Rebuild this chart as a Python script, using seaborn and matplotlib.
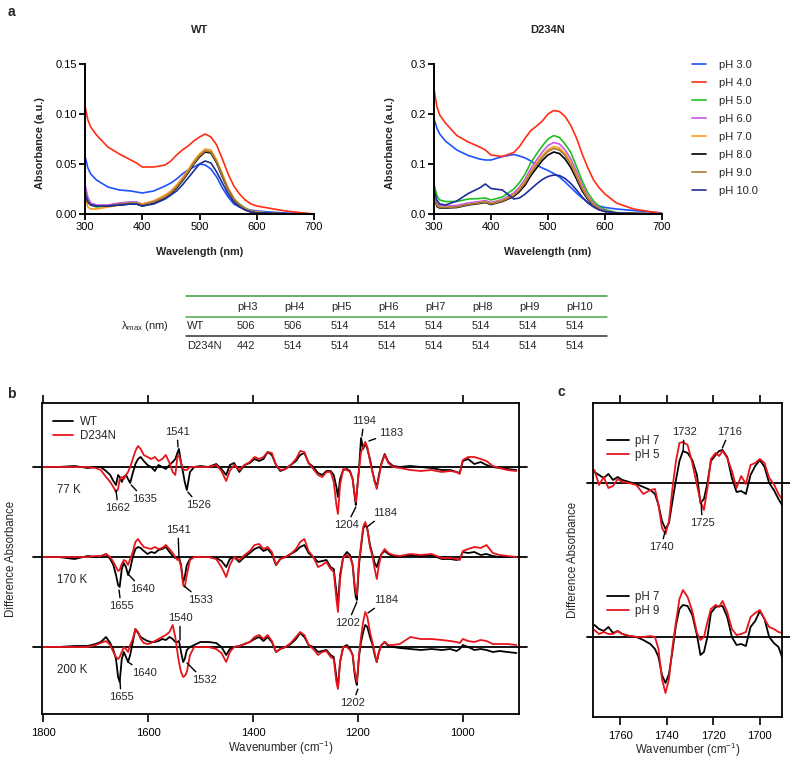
import numpy as np
import pandas as pd
import seaborn as sns
import matplotlib.pyplot as plt
from matplotlib.ticker import FormatStrFormatter

sns.set_style('ticks')
plt.rcParams['font.family'] = ['Liberation Sans', 'DejaVu Sans']
plt.rcParams['mathtext.fontset'] = 'custom'
plt.rcParams['mathtext.rm'] = 'Liberation Sans'
plt.rcParams['mathtext.it'] = 'Liberation Sans:italic'
plt.rcParams['mathtext.bf'] = 'Liberation Sans:bold'

# ---------------------------------------------------------------
# panel a : UV-vis absorbance spectra

wavelength = [300, 305, 310, 320, 340, 360, 380, 390, 400, 420, 440, 450, 460, 470, 480,
              490, 500, 510, 520, 530, 540, 550, 560, 570, 580, 590, 600, 620, 650, 700]
ph_labels = ['pH 3.0', 'pH 4.0', 'pH 5.0', 'pH 6.0', 'pH 7.0', 'pH 8.0', 'pH 9.0', 'pH 10.0']
ph_colors = ['#1f52ff', '#ff2d12', '#1fbf1f', '#c655ea', '#ff9a1a', '#000000', '#a47b3c', '#1c2f9c']

wt_ph3 = [0.058, 0.046, 0.040, 0.034, 0.027, 0.024, 0.023, 0.022, 0.021, 0.023, 0.028, 0.031, 0.035, 0.040, 0.044,
          0.047, 0.050, 0.049, 0.045, 0.037, 0.026, 0.017, 0.010, 0.007, 0.005, 0.004, 0.003, 0.002, 0.001, 0.000]
wt_ph4 = [0.108, 0.094, 0.087, 0.079, 0.067, 0.060, 0.054, 0.051, 0.047, 0.047, 0.049, 0.053, 0.059, 0.064, 0.068,
          0.073, 0.077, 0.080, 0.077, 0.069, 0.055, 0.040, 0.028, 0.020, 0.014, 0.010, 0.008, 0.006, 0.003, 0.000]
wt_ph5 = [0.025, 0.013, 0.009, 0.007, 0.008, 0.010, 0.012, 0.011, 0.009, 0.012, 0.018, 0.022, 0.028, 0.035, 0.043,
          0.051, 0.058, 0.063, 0.062, 0.052, 0.039, 0.025, 0.015, 0.010, 0.006, 0.003, 0.002, 0.001, 0.000, 0.000]
wt_ph6 = [0.030, 0.017, 0.011, 0.009, 0.009, 0.011, 0.012, 0.012, 0.010, 0.013, 0.018, 0.022, 0.028, 0.035, 0.043,
          0.052, 0.059, 0.063, 0.062, 0.052, 0.038, 0.025, 0.015, 0.009, 0.005, 0.003, 0.002, 0.001, 0.000, 0.000]
wt_ph7 = [0.017, 0.007, 0.005, 0.005, 0.007, 0.009, 0.011, 0.011, 0.010, 0.013, 0.019, 0.023, 0.029, 0.036, 0.044,
          0.053, 0.060, 0.065, 0.064, 0.054, 0.040, 0.026, 0.016, 0.009, 0.005, 0.003, 0.002, 0.001, 0.000, 0.000]
wt_ph8 = [0.022, 0.012, 0.009, 0.008, 0.008, 0.009, 0.010, 0.010, 0.008, 0.011, 0.016, 0.020, 0.026, 0.033, 0.041,
          0.050, 0.057, 0.062, 0.061, 0.051, 0.037, 0.024, 0.014, 0.008, 0.004, 0.002, 0.001, 0.001, 0.000, 0.000]
wt_ph9 = [0.023, 0.012, 0.009, 0.008, 0.008, 0.010, 0.011, 0.011, 0.009, 0.012, 0.017, 0.021, 0.027, 0.034, 0.042,
          0.051, 0.058, 0.063, 0.062, 0.052, 0.038, 0.024, 0.014, 0.008, 0.004, 0.002, 0.001, 0.001, 0.000, 0.000]
wt_ph10 = [0.020, 0.012, 0.009, 0.008, 0.008, 0.009, 0.010, 0.010, 0.008, 0.010, 0.015, 0.019, 0.023, 0.029, 0.036,
           0.043, 0.050, 0.053, 0.051, 0.042, 0.031, 0.020, 0.012, 0.007, 0.004, 0.002, 0.001, 0.001, 0.000, 0.000]

d234n_ph3 = [0.190, 0.172, 0.160, 0.146, 0.128, 0.117, 0.110, 0.108, 0.108, 0.115, 0.119, 0.116, 0.112, 0.106, 0.098,
             0.092, 0.087, 0.081, 0.074, 0.064, 0.053, 0.042, 0.032, 0.023, 0.019, 0.016, 0.013, 0.010, 0.007, 0.002]
d234n_ph4 = [0.250, 0.215, 0.198, 0.182, 0.157, 0.144, 0.134, 0.128, 0.118, 0.115, 0.123, 0.135, 0.152, 0.167, 0.176,
             0.186, 0.200, 0.207, 0.205, 0.195, 0.177, 0.152, 0.120, 0.092, 0.068, 0.052, 0.040, 0.022, 0.010, 0.001]
d234n_ph5 = [0.060, 0.037, 0.028, 0.025, 0.025, 0.030, 0.031, 0.032, 0.028, 0.034, 0.050, 0.063, 0.080, 0.103, 0.120,
             0.136, 0.150, 0.157, 0.153, 0.140, 0.123, 0.095, 0.066, 0.042, 0.026, 0.015, 0.009, 0.003, 0.001, 0.000]
d234n_ph6 = [0.043, 0.022, 0.017, 0.016, 0.017, 0.022, 0.025, 0.027, 0.023, 0.029, 0.042, 0.054, 0.070, 0.091, 0.108,
             0.124, 0.137, 0.143, 0.140, 0.128, 0.110, 0.085, 0.058, 0.036, 0.021, 0.012, 0.007, 0.002, 0.001, 0.000]
d234n_ph7 = [0.040, 0.018, 0.014, 0.013, 0.014, 0.019, 0.023, 0.025, 0.021, 0.027, 0.039, 0.050, 0.065, 0.085, 0.102,
             0.117, 0.129, 0.135, 0.132, 0.121, 0.103, 0.079, 0.053, 0.033, 0.019, 0.010, 0.006, 0.002, 0.001, 0.000]
d234n_ph8 = [0.038, 0.015, 0.012, 0.012, 0.013, 0.018, 0.021, 0.023, 0.019, 0.025, 0.035, 0.045, 0.058, 0.077, 0.092,
             0.107, 0.118, 0.124, 0.121, 0.110, 0.093, 0.070, 0.046, 0.029, 0.017, 0.009, 0.005, 0.002, 0.001, 0.000]
d234n_ph9 = [0.040, 0.017, 0.013, 0.013, 0.014, 0.019, 0.022, 0.024, 0.020, 0.026, 0.037, 0.048, 0.062, 0.082, 0.098,
             0.113, 0.125, 0.131, 0.128, 0.117, 0.099, 0.075, 0.050, 0.031, 0.018, 0.010, 0.005, 0.002, 0.001, 0.000]
d234n_ph10 = [0.050, 0.028, 0.020, 0.018, 0.026, 0.041, 0.052, 0.060, 0.051, 0.048, 0.030, 0.032, 0.040, 0.050, 0.060,
              0.069, 0.075, 0.078, 0.077, 0.071, 0.061, 0.048, 0.034, 0.022, 0.014, 0.008, 0.005, 0.002, 0.001, 0.000]

# lambda max table
table_cols = ['pH3', 'pH4', 'pH5', 'pH6', 'pH7', 'pH8', 'pH9', 'pH10']
lmax_wt = [506, 506, 514, 514, 514, 514, 514, 514]
lmax_d234n = [442, 514, 514, 514, 514, 514, 514, 514]

# ---------------------------------------------------------------
# panel b : light-minus-dark FTIR difference spectra (arb. units)

b_wn = [1800, 1770, 1740, 1715, 1700, 1690, 1680, 1672, 1666, 1661, 1657, 1654, 1650, 1646, 1642,
        1638, 1634, 1629, 1624, 1619, 1614, 1608, 1601, 1594, 1587, 1580, 1573, 1566, 1559, 1553,
        1548, 1544, 1541, 1537, 1533, 1530, 1526, 1520, 1512, 1500, 1485, 1470, 1460, 1451, 1444,
        1436, 1426, 1416, 1406, 1397, 1388, 1380, 1372, 1364, 1356, 1348, 1338, 1328, 1318, 1310,
        1302, 1294, 1285, 1276, 1268, 1260, 1252, 1246, 1241, 1238, 1234, 1228, 1221, 1215, 1210,
        1206, 1204, 1202, 1198, 1194, 1190, 1186, 1182, 1177, 1172, 1168, 1164, 1160, 1155, 1149,
        1142, 1133, 1120, 1100, 1080, 1060, 1040, 1024, 1012, 1006, 1000, 990, 978, 966, 955,
        943, 930, 915, 898]

wt_77 = [0, 0, 1, -1, 0, 0, -4, -8, -14, -18, -8, -10, -15, -10, -8,
         -12, -16, -6, 3, 8, 10, 6, 2, 0, -4, 2, 0, -2, 2, 5,
         8, 14, 18, 4, -6, -15, -23, -5, 0, 1, 0, 3, -2, -8, 2,
         4, -5, 2, 4, 8, 6, 8, 15, 12, 2, -4, -2, 2, 6, 12,
         14, 4, 0, -6, -8, -4, -4, -8, -20, -30, -12, -3, -2, -4, -12,
         -30, -38, -25, -3, 29, 18, 24, 18, 8, -5, -14, -20, -8, 4, 13,
         5, 1, 0, 1, 0, -1, -3, -3, -5, -6, 6, 8, 3, 5, 2,
         0, -1, -2, -3]
d234n_77 = [0, 0, 0, 0, -1, -3, -10, -15, -20, -25, -22, -12, -10, -12, -8,
            -5, 0, 8, 16, 21, 18, 12, 10, 8, 10, 6, 8, 12, 4, -5,
            -8, 10, 12, 4, -2, -3, -3, 0, 0, 0, 0, 2, -4, -14, -4,
            2, -3, 2, 5, 10, 8, 10, 15, 14, 2, -3, -2, 2, 8, 16,
            15, 4, -2, -8, -10, -5, -5, -15, -38, -47, -18, -2, -3, -5, -12,
            -28, -35, -25, -3, 15, 20, 25, 20, 6, -6, -15, -22, -10, 3, 12,
            4, 0, -1, -3, -4, -3, -5, -4, -5, -7, 7, 10, 10, 8, 6,
            1, -1, -3, -4]
wt_170 = [0, 0, -2, 1, 0, 0, 3, -2, -8, -18, -28, -30, -12, -6, -10,
          -18, -12, 0, 8, 10, 9, 6, 3, 5, 4, 7, 8, 10, 5, 1,
          -1, -1, 0, -8, -25, -20, -8, -2, 0, 0, 0, -1, -4, -10, -2,
          0, -5, 0, 4, 8, 10, 6, 8, 3, -8, -2, 0, 3, 6, 10,
          12, 4, 0, -5, -4, -3, -10, -12, -35, -47, -18, 0, 5, 2, -8,
          -32, -40, -43, -8, 10, 28, 33, 28, 12, 2, -6, -10, -3, 3, 6,
          3, 1, 0, 2, 1, 2, -2, -2, -3, -2, 5, 4, 5, 2, 3,
          1, 0, 0, 0]
d234n_170 = [0, 0, 0, 0, 1, 1, 3, 0, -5, -10, -14, -13, -7, -3, -4,
             -8, -2, 5, 15, 18, 14, 10, 9, 8, 10, 8, 9, 12, 8, 4,
             0, -3, -2, -10, -28, -30, -18, -3, 0, 0, 0, -2, -10, -20, -8,
             0, -3, 2, 6, 12, 13, 8, 10, 5, -8, -2, 0, 3, 8, 15,
             18, 6, 0, -10, -8, -5, -12, -15, -42, -55, -22, 0, 2, 0, -8,
             -28, -35, -38, -5, 12, 30, 35, 28, 10, 0, -12, -22, -8, 3, 8,
             4, 2, 1, 3, 2, 3, -1, -1, -2, -3, 6, 8, 10, 9, 12,
             4, 2, 1, 0]
wt_200 = [0, 0, 1, 1, 3, 5, 10, 4, -3, -12, -30, -35, -12, -5, -10,
          -15, -8, 5, 18, 14, 10, 8, 6, 5, 5, 6, 8, 7, 10, 8,
          5, 5, 6, -5, -15, -12, -3, 0, 2, 5, 5, 4, 0, -8, -2,
          0, 1, 3, 5, 8, 10, 6, 10, 5, -5, -2, 0, 3, 8, 14,
          10, 2, 0, -5, -4, -3, -8, -10, -30, -40, -15, 0, 2, -2, -8,
          -28, -34, -38, -10, 5, 15, 22, 20, 10, 2, -8, -15, -5, 2, 5,
          1, 0, -1, -2, -3, -2, -3, -2, -4, -2, 2, 0, -3, -2, -3,
          -5, -4, -5, -6]
d234n_200 = [0, 0, 0, 0, 2, 4, 6, 2, -5, -10, -12, -10, -5, 0, -2,
             -5, 2, 8, 18, 15, 8, 4, 3, 4, 6, 8, 10, 12, 15, 22,
             10, -5, -15, -25, -30, -29, -25, -8, 0, 0, 0, -2, -6, -15, -5,
             0, 1, 3, 5, 10, 12, 8, 12, 6, -5, -2, 0, 4, 10, 15,
             12, 2, -2, -8, -5, -4, -10, -12, -35, -42, -15, 0, 0, -3, -8,
             -25, -30, -35, -8, 10, 25, 35, 30, 15, 4, -6, -15, -5, 2, 5,
             2, 2, 3, 10, 8, 8, 7, 6, 5, 4, 8, 6, 5, 7, 6,
             3, 3, 3, 2]
b_temps = ['77 K', '170 K', '200 K']

# ---------------------------------------------------------------
# panel c : carbonyl region, pH dependence

c_wn = [1771, 1769, 1767, 1765, 1763, 1761, 1759, 1756, 1753, 1750, 1747, 1745,
        1743.5, 1742, 1740.5, 1739, 1737.5, 1736, 1734.5, 1733, 1731, 1729, 1727, 1725.5,
        1724, 1722.5, 1721, 1719, 1717.5, 1716, 1714, 1712, 1710, 1708, 1706, 1704,
        1702, 1700, 1698, 1696, 1694, 1692, 1690.5]
c_ph7_a = [11, 8, 5, 9, 3, 6, 3, 1, -1, -4, -7, -11,
           -22, -38, -46, -40, -18, 3, 22, 32, 30, 23, 8, -20,
           -16, 0, 22, 28, 32, 33, 26, 5, -9, -8, -11, 8,
           17, 23, 16, 0, -7, -16, -22]
c_ph5 = [13, -2, 6, -5, -3, 4, 1, 0, -2, -11, -7, -6,
         -22, -45, -51, -38, -5, 22, 40, 41, 38, 20, -2, -18,
         -27, -5, 24, 30, 27, 32, 25, 12, -5, 7, -1, 18,
         20, 24, 20, 5, -1, -11, -16]
c_ph7_b = [12, 8, 6, 10, 4, 6, 3, 1, 0, -3, -7, -12,
           -20, -38, -46, -37, -14, 12, 28, 32, 31, 22, 2, -18,
           -15, 0, 24, 30, 31, 31, 20, 0, -8, -7, -9, 10,
           16, 26, 18, 0, -6, -10, -20]
c_ph9 = [7, 3, 5, 3, 3, 6, 3, 1, 0, 0, 1, 0,
         -12, -42, -56, -42, -10, 15, 38, 47, 40, 26, 4, -3,
         0, 15, 28, 32, 30, 36, 25, 8, 2, 3, 5, 20,
         24, 27, 18, 10, 8, 5, 4]

RED = '#e8141b'
W, H = 790, 758


def fxy(x, y):
    # pixel position -> figure fraction
    return x / W, 1 - y / H


fig = plt.figure(figsize=(W / 100, H / 100), dpi=100)

# ---------------------------------------------------------------
# panel a

ax_wt = fig.add_axes([85 / W, 1 - 214 / H, 229 / W, 150 / H])
ax_d = fig.add_axes([434 / W, 1 - 214 / H, 228 / W, 150 / H])
palette = dict(zip(ph_labels, ph_colors))

for ax, series, ymax, step, fmt, title in [
        (ax_wt, [wt_ph3, wt_ph4, wt_ph5, wt_ph6, wt_ph7, wt_ph8, wt_ph9, wt_ph10], 0.15, 0.05, '%.2f', 'WT'),
        (ax_d, [d234n_ph3, d234n_ph4, d234n_ph5, d234n_ph6, d234n_ph7, d234n_ph8, d234n_ph9, d234n_ph10],
         0.3, 0.1, '%.1f', 'D234N')]:
    df = pd.DataFrame({'wavelength': wavelength * len(series),
                       'absorbance': [v for s in series for v in s],
                       'pH': [lab for lab in ph_labels for _ in wavelength]})
    sns.lineplot(data=df, x='wavelength', y='absorbance', hue='pH', hue_order=ph_labels,
                 palette=palette, estimator=None, lw=1.2, ax=ax, legend=(ax is ax_d))
    ax.set_xlim(300, 700)
    ax.set_ylim(0, ymax)
    ax.set_xticks([300, 400, 500, 600, 700])
    ax.set_yticks(np.arange(0, ymax + step / 2, step))
    ax.yaxis.set_major_formatter(FormatStrFormatter(fmt))
    sns.despine(ax=ax)
    for s in ['left', 'bottom']:
        ax.spines[s].set_linewidth(1.4)
        ax.spines[s].set_color('black')
    ax.tick_params(direction='out', length=4, width=1.3, labelsize=8, pad=2, colors='black')
    ax.set_xlabel('Wavelength (nm)', fontsize=7.8, fontweight='bold')
    ax.set_ylabel('Absorbance (a.u.)', fontsize=7.8, fontweight='bold')
    ax.xaxis.set_label_coords(0.5, -0.22)
    ax.yaxis.set_label_coords(-0.173, 0.473)
    ax.text(0.5, 1.227, title, transform=ax.transAxes, ha='center', va='center',
            fontsize=8, fontweight='bold')

sns.move_legend(ax_d, 'upper left', bbox_to_anchor=fxy(692, 60), bbox_transform=fig.transFigure,
                frameon=False, title=None, fontsize=8, handlelength=1.25, handletextpad=1.2,
                labelspacing=0.72, borderpad=0, borderaxespad=0)

# lambda max table
for y, c in [(296, '#3a9a3a'), (317, '#4aaa4a'), (336, '#333333')]:
    fig.add_artist(plt.Line2D([186 / W, 607 / W], [1 - y / H] * 2, transform=fig.transFigure,
                              color=c, lw=1.1))
for i, col in enumerate(table_cols):
    x = 237 + 47 * i
    fig.text(*fxy(x, 307), col, fontsize=8, va='center')
    fig.text(*fxy(x, 326), str(lmax_wt[i]), fontsize=8, va='center')
    fig.text(*fxy(x, 346), str(lmax_d234n[i]), fontsize=8, va='center')
fig.text(*fxy(187, 326), 'WT', fontsize=8, va='center')
fig.text(*fxy(187, 346), 'D234N', fontsize=8, va='center')
fig.text(*fxy(121, 326), r'$\mathregular{\lambda_{max}}$ (nm)', fontsize=8, va='center')

# ---------------------------------------------------------------
# panel b

ax_b = fig.add_axes([42 / W, 1 - 714 / H, 477 / W, 311 / H])
b_offsets = [0, -90, -180]
for i, (wt, mut, off) in enumerate(zip([wt_77, wt_170, wt_200], [d234n_77, d234n_170, d234n_200], b_offsets)):
    df = pd.DataFrame({'wavenumber': b_wn * 2,
                       'dA': [v + off for v in wt + mut],
                       'sample': ['WT'] * len(b_wn) + ['D234N'] * len(b_wn)})
    sns.lineplot(data=df, x='wavenumber', y='dA', hue='sample', hue_order=['WT', 'D234N'],
                 palette={'WT': 'black', 'D234N': RED}, estimator=None, lw=1.3, ax=ax_b,
                 legend=(i == 0))
    ax_b.axhline(off, xmin=-0.019, xmax=1.017, color='black', lw=1.3, clip_on=False, zorder=1)
    ax_b.text(1774, off - 23, b_temps[i], fontsize=8.3, va='center')

sns.move_legend(ax_b, 'upper left', bbox_to_anchor=fxy(53, 416), bbox_transform=fig.transFigure,
                frameon=False, title=None, fontsize=8.3, handlelength=1.75, handletextpad=0.6,
                labelspacing=0.2, borderpad=0, borderaxespad=0)

b_notes = [('1541', (1544.7, 35), (1542.8, 20)), ('1662', (1657, -41), (1661, -23)),
           ('1635', (1607, -32), (1632, -18)), ('1526', (1503, -38), (1524, -25)),
           ('1194', (1188.5, 46), (1192.3, 31)), ('1183', (1137, 34), (1179, 26)),
           ('1204', (1221, -58), (1204, -40)),
           ('1541', (1542.8, -63), (1541, -90)), ('1655', (1651.4, -139), (1655.2, -123)),
           ('1640', (1611, -122), (1638, -107)), ('1533', (1499, -133), (1531, -119)),
           ('1184', (1148.5, -46), (1182.8, -60)), ('1202', (1219, -156), (1202, -135)),
           ('1540', (1539, -151), (1539, -173)), ('1655', (1651.4, -230), (1653.3, -214)),
           ('1640', (1607.6, -206), (1638, -195)), ('1532', (1493, -213), (1525.7, -196)),
           ('1184', (1146.6, -133), (1181, -146)), ('1202', (1209.5, -236), (1200, -222))]
for lab, txt, pt in b_notes:
    ax_b.annotate(lab, xy=pt, xytext=txt, ha='center', va='center', fontsize=8,
                  arrowprops=dict(arrowstyle='-', lw=1.0, color='black', shrinkA=0, shrinkB=0))

ax_b.set_xlim(1802, 893)
ax_b.set_ylim(-247, 64)
ax_b.set_xticks([1800, 1600, 1400, 1200, 1000])
ax_b.set_yticks([])
ax_b.set_xlabel('Wavenumber (cm$^{-1}$)', fontsize=8.3)
ax_b.set_ylabel('Difference Absorbance', fontsize=8.3)
ax_b.xaxis.set_label_coords(0.5, -0.08)
ax_b.yaxis.set_label_coords(-0.052, 0.5)

# ---------------------------------------------------------------
# panel c

ax_c = fig.add_axes([593 / W, 1 - 717 / H, 189 / W, 314 / H])
c_offsets = [0, -154]
c_pairs = [(c_ph7_a, c_ph5, 'pH 5', 435), (c_ph7_b, c_ph9, 'pH 9', 591)]
for k, ((ref, other, lab, ly), off) in enumerate(zip(c_pairs, c_offsets)):
    n0 = len(ax_c.lines)
    df = pd.DataFrame({'wavenumber': c_wn * 2,
                       'dA': [v + off for v in ref + other],
                       'pH': ['pH 7'] * len(c_wn) + [lab] * len(c_wn)})
    sns.lineplot(data=df, x='wavenumber', y='dA', hue='pH', hue_order=['pH 7', lab],
                 palette={'pH 7': 'black', lab: RED}, estimator=None, lw=1.3, ax=ax_c, legend=False)
    handles = ax_c.lines[n0:n0 + 2]
    ax_c.axhline(off, xmin=-0.032, xmax=1.04, color='black', lw=1.3, clip_on=False, zorder=1)
    leg = ax_c.legend(handles, ['pH 7', lab], loc='upper left', bbox_to_anchor=fxy(607, ly),
                      bbox_transform=fig.transFigure, frameon=False, fontsize=8.3, handlelength=1.95,
                      handletextpad=0.45, labelspacing=0.15, borderpad=0, borderaxespad=0)
    if k == 0:
        ax_c.add_artist(leg)

c_notes = [('1732', (1732.5, 51), (1732.9, 33)), ('1716', (1713.1, 51), (1716.1, 35)),
           ('1740', (1742.4, -64), (1740.6, -48)), ('1725', (1724.7, -40), (1725.2, -20))]
for lab, txt, pt in c_notes:
    ax_c.annotate(lab, xy=pt, xytext=txt, ha='center', va='center', fontsize=8,
                  arrowprops=dict(arrowstyle='-', lw=1.0, color='black', shrinkA=0, shrinkB=0))

ax_c.set_xlim(1771.6, 1690.5)
ax_c.set_ylim(-234, 80)
ax_c.set_xticks([1760, 1740, 1720, 1700])
ax_c.set_yticks([])
ax_c.set_xlabel('Wavenumber (cm$^{-1}$)', fontsize=8.3)
ax_c.set_ylabel('Difference Absorbance', fontsize=8.3)
ax_c.xaxis.set_label_coords(0.5, -0.075)
ax_c.yaxis.set_label_coords(-0.074, 0.5)

for ax in [ax_b, ax_c]:
    for s in ax.spines.values():
        s.set_visible(True)
        s.set_linewidth(1.3)
        s.set_color('black')
    ax.tick_params(axis='x', which='both', top=True, bottom=True, labeltop=False, direction='out',
                   length=6, width=1.2, labelsize=8, pad=4, colors='black')
    ax.tick_params(axis='y', left=False, labelleft=False)

# panel letters
for lab, x, y in [('a', 11, 12), ('b', 11, 394), ('c', 561, 392)]:
    fig.text(*fxy(x, y), lab, fontsize=10, fontweight='bold', ha='center', va='center')

fig.savefig('out.png', dpi=100)
